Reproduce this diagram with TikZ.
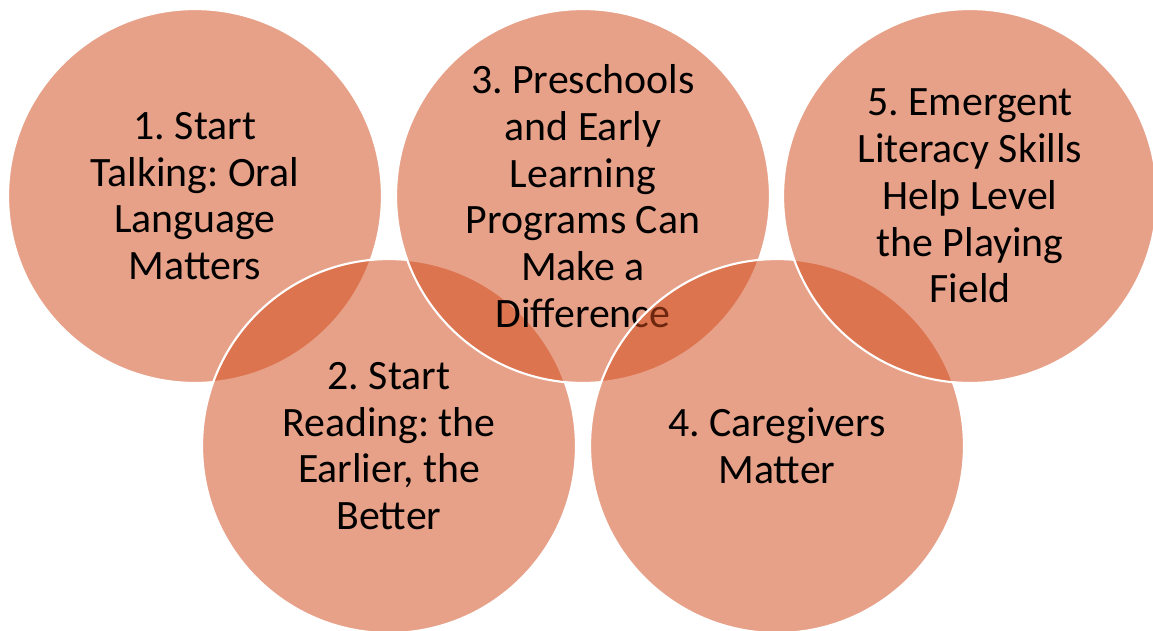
\documentclass[tikz,border=0pt]{standalone}
\usepackage{fontspec}
\setmainfont{Carlito}
\usepackage{xcolor}
\usepackage{tikz}
\frenchspacing

\definecolor{ringfill}{RGB}{210,75,28}

\begin{document}
\begin{tikzpicture}[x=0.02cm, y=-0.02cm,
    idea/.style={draw=white, line width=1.2pt, circle, minimum size=7.48cm, inner sep=0pt,
        fill=ringfill, fill opacity=0.52, text opacity=1, align=center,
        font=\fontsize{23.8}{26.6}\selectfont}]
    \useasboundingbox (0,0) rectangle (1153,630);

    % Top row and bottom row, drawn in order so each one lies over the one before
    \node[idea] (talk) at (195,196) {1. Start\\Talking: Oral\\Language\\Matters};
    \node[idea] (read) at (389,446) {2. Start\\Reading: the\\Earlier, the\\Better};
    \node[idea] (pre) at (583,196) {3. Preschools\\and Early\\Learning\\Programs Can\\Make a\\Difference};
    \node[idea] (care) at (777,446) {4. Caregivers\\Matter};
    \node[idea] (skill) at (970,196) {5. Emergent\\Literacy Skills\\Help Level\\the Playing\\Field};
\end{tikzpicture}
\end{document}
